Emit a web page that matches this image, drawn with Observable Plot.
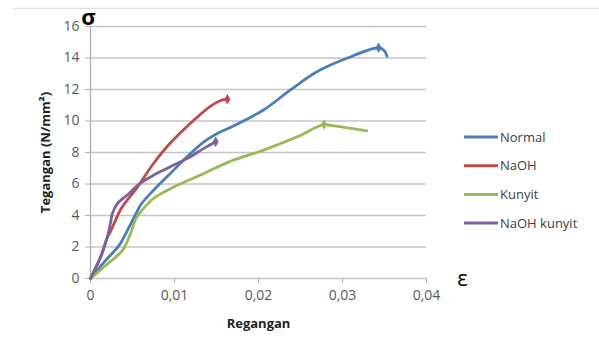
<!DOCTYPE html>
<html><head><meta charset="utf-8">
<script src="https://cdn.jsdelivr.net/npm/d3@7"></script>
<script src="https://cdn.jsdelivr.net/npm/@observablehq/plot@0.6"></script>
<style>body{margin:0;background:#fff}#chart{position:relative;width:599px;height:348px}</style>
</head><body><div id="chart"></div><script>
const seriesNames = ["Normal", "NaOH", "Kunyit", "NaOH kunyit"];
const seriesColors = ["#4A7EBB", "#BE4B48", "#98B954", "#7D60A0"];

const normalStrain = [0, 0.0018, 0.0034, 0.0046, 0.0054, 0.006, 0.0075, 0.0095, 0.0115, 0.0135, 0.0155, 0.0167, 0.0206, 0.0238, 0.027, 0.0306, 0.0343, 0.035, 0.0353];
const normalStress = [0, 1.15, 2.1, 3.27, 4.1, 4.7, 5.6, 6.67, 7.73, 8.68, 9.32, 9.6, 10.7, 11.97, 13.14, 14.0, 14.65, 14.45, 14.1];

const naohStrain = [0, 0.0012, 0.002, 0.0024, 0.0028, 0.0036, 0.0056, 0.0075, 0.0095, 0.0122, 0.0143, 0.0155, 0.0163];
const naohStress = [0, 1.36, 2.6, 3.0, 3.48, 4.4, 5.82, 7.3, 8.6, 10.0, 10.95, 11.3, 11.38];

const kunyitStrain = [0, 0.0018, 0.0038, 0.0048, 0.0054, 0.0063, 0.0075, 0.0095, 0.0135, 0.0167, 0.0206, 0.0246, 0.0278, 0.0286, 0.0329];
const kunyitStress = [0, 0.83, 1.78, 2.9, 3.8, 4.44, 5.08, 5.7, 6.67, 7.45, 8.15, 9.0, 9.78, 9.72, 9.38];

const naohKunyitStrain = [0, 0.0012, 0.002, 0.0024, 0.0026, 0.0032, 0.0046, 0.0056, 0.0075, 0.0095, 0.0115, 0.0135, 0.0149];
const naohKunyitStress = [0, 1.36, 2.63, 3.59, 4.12, 4.76, 5.4, 5.92, 6.56, 7.09, 7.62, 8.26, 8.68];

// index of the point carrying a marker in each series
const markerIndex = [16, 12, 12, 12];

const xTicks = [0, 0.01, 0.02, 0.03, 0.04];
const yTicks = [0, 2, 4, 6, 8, 10, 12, 14, 16];
const xTitle = "Regangan";
const yTitle = "Tegangan (N/mm²)";

const strains = [normalStrain, naohStrain, kunyitStrain, naohKunyitStrain];
const stresses = [normalStress, naohStress, kunyitStress, naohKunyitStress];
const rows = [];
const markers = [];
seriesNames.forEach((s, i) => {
  strains[i].forEach((x, j) => {
    const r = {series: s, x, y: stresses[i][j]};
    rows.push(r);
    if (j === markerIndex[i]) markers.push(r);
  });
});

const fmt = d => d === 0 ? "0" : d.toFixed(2).replace(".", ",");
const colorScale = {domain: seriesNames, range: seriesColors};

const chart = Plot.plot({
  width: 599, height: 348,
  marginLeft: 90, marginRight: 173, marginTop: 26, marginBottom: 70,
  style: {fontFamily: "Open Sans", fontSize: "13px", background: "#fff", overflow: "visible"},
  x: {domain: [0, 0.04]},
  y: {domain: [0, 16]},
  color: colorScale,
  marks: [
    Plot.gridY(yTicks, {stroke: "#c4c4c4", strokeOpacity: 1, strokeWidth: 1.3}),
    Plot.ruleX([0], {stroke: "#b0b0b0", strokeWidth: 1.3}),
    Plot.axisY(yTicks, {tickSize: 5, tickPadding: 6, stroke: "#b0b0b0", fill: "#595959", fontSize: 14, label: null}),
    Plot.axisX(xTicks, {tickSize: 5, tickPadding: 7, stroke: "#b0b0b0", fill: "#595959", fontSize: 14, tickFormat: fmt, label: null}),
    Plot.line(rows, {x: "x", y: "y", z: "series", stroke: "series", strokeWidth: 2.8, curve: "catmull-rom"}),
    Plot.dot(markers, {x: "x", y: "y", fill: "series", symbol: "diamond", r: 3.2}),
    Plot.text([yTitle], {frameAnchor: "left", dx: -45, rotate: -90, fontWeight: "bold", fontSize: 13, fill: "#222", textAnchor: "middle", lineAnchor: "middle"}),
    Plot.text([xTitle], {frameAnchor: "bottom", dy: 45, fontWeight: "bold", fontSize: 13, fill: "#222", textAnchor: "middle", lineAnchor: "middle"}),
    Plot.text(["σ"], {frameAnchor: "top-left", dx: -2, dy: -9, fontWeight: "bold", fontSize: 22, fill: "#000", textAnchor: "middle", lineAnchor: "middle"}),
    Plot.text(["ε"], {frameAnchor: "bottom-right", dx: 36, dy: 0, fontSize: 22, fill: "#000", textAnchor: "middle", lineAnchor: "middle"})
  ]
});

const svg = d3.select(chart);
svg.insert("line", ":first-child").attr("x1", 13).attr("x2", 599).attr("y1", 8.5).attr("y2", 8.5).attr("stroke", "#e2e2e2").attr("stroke-width", 1.5);
const lg = svg.append("g").attr("font-family", "Open Sans").attr("font-size", 13).attr("text-anchor", "start");
seriesNames.forEach((s, i) => {
  const y = 137 + i * 28.7;
  lg.append("line").attr("x1", 464).attr("x2", 498).attr("y1", y).attr("y2", y).attr("stroke", seriesColors[i]).attr("stroke-width", 3);
  lg.append("text").attr("x", 500).attr("y", y).attr("dy", "0.35em").attr("fill", "#404040").text(s);
});
document.getElementById("chart").appendChild(chart);
</script></body></html>
